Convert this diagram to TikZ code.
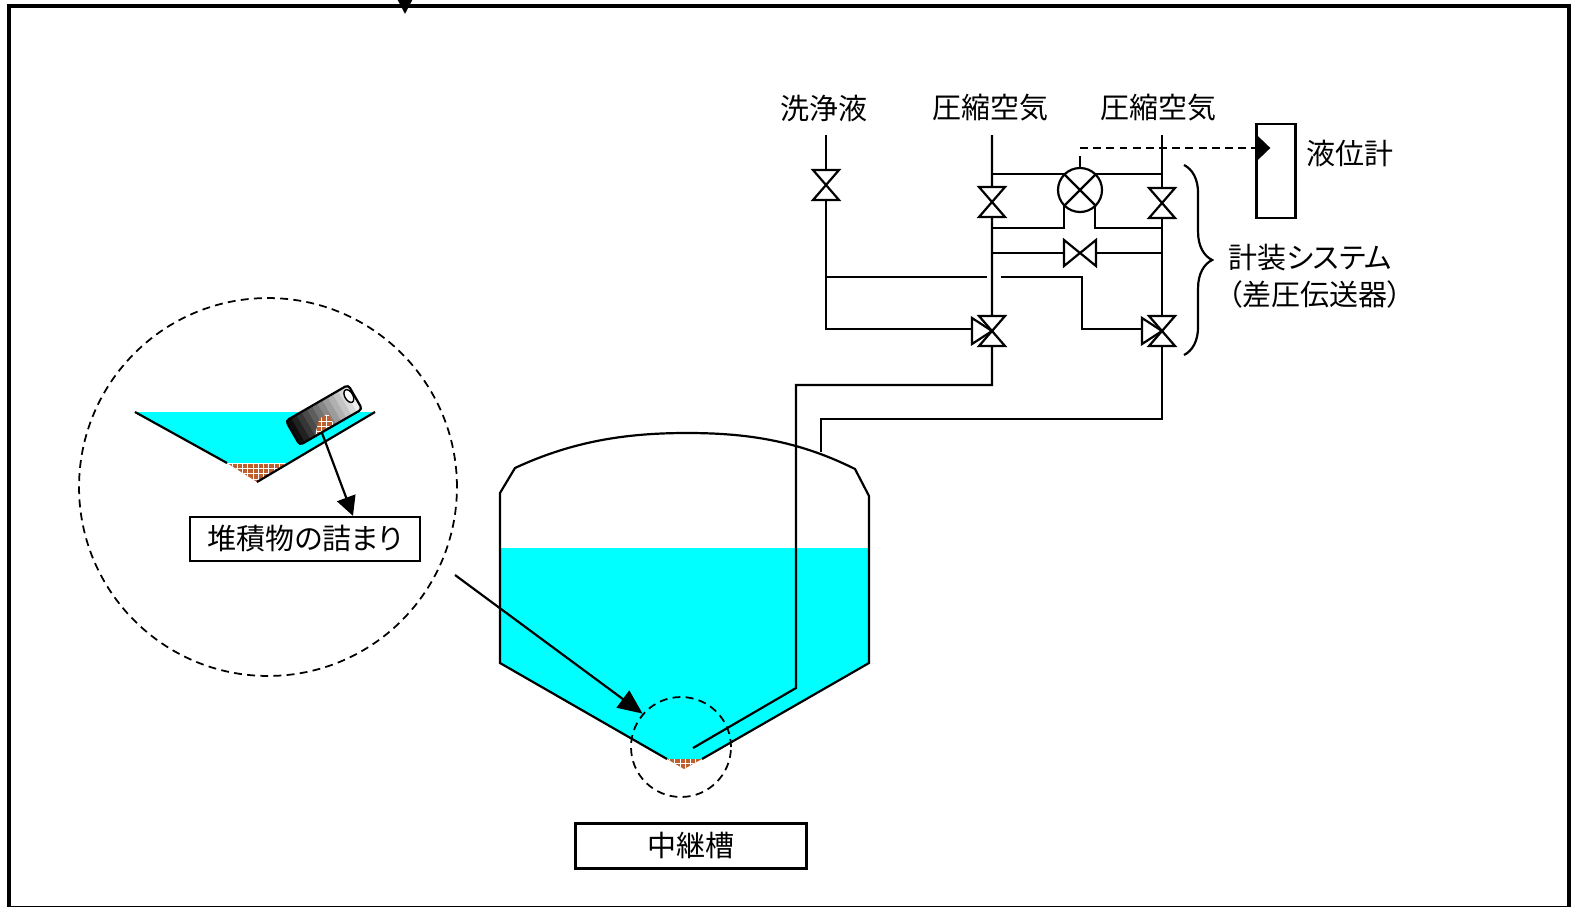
\documentclass[tikz,border=0pt]{standalone}
\usepackage{fontspec}
\setmainfont{Noto Sans CJK JP}[CharacterWidth=AlternateProportional]
\usetikzlibrary{arrows.meta,decorations.pathreplacing,patterns}

\definecolor{water}{RGB}{0,255,255}
\definecolor{silt}{RGB}{190,95,45}

\tikzset{
  pipe/.style={line width=1.25pt},
  valve/.style={line width=1.25pt, fill=white},
  txt/.style={font=\fontsize{16.5pt}{20pt}\selectfont, inner sep=0pt},
  namebox/.style={txt, draw, line width=1.25pt, minimum width=4.6cm, minimum height=0.88cm},
  lens/.style={draw, circle, inner sep=0pt, line width=1pt, dash pattern=on 4.5pt off 3pt},
  bigtip/.style={-{Triangle[length=14pt,width=12pt]}},
}

\begin{document}
\begin{tikzpicture}[x=0.02cm, y=-0.02cm]
\useasboundingbox (0,0) rectangle (1571,906);

% feed lines
\def\xw{826}
\def\xa{992}
\def\xb{1162}
\def\ytop{135}

% valve symbols
\def\vvalve#1#2{\draw[valve] (#1-13,#2-15) -- (#1+13,#2-15) -- (#1-13,#2+15) -- (#1+13,#2+15) -- cycle;}
\def\hvalve#1#2{\draw[valve] (#1-16,#2-13) -- (#1-16,#2+13) -- (#1+16,#2-13) -- (#1+16,#2+13) -- cycle;}
\def\tvalve#1#2{\draw[valve] (#1-20,#2-13) -- (#1-20,#2+13) -- (#1,#2) -- cycle; \vvalve{#1}{#2}}

% frame
\draw[line width=2.8pt] (9,6) rectangle (1569,908);
\coordinate (feed) at (405,-10);
\coordinate (feedend) at (405,14);
\draw[pipe, -{Triangle[length=8pt,width=8pt]}] (feed) -- (feedend);

% tank contents
\fill[water] (500,548) -- (869,548) -- (869,663) -- (702,759) -- (667,759) -- (500,663) -- cycle;
\fill[silt] (667,759) -- (702,759) -- (684,769) -- cycle;
\fill[pattern=grid, pattern color=white] (667,759) -- (702,759) -- (684,769) -- cycle;

% wash line
\draw[pipe] (\xw,\ytop) -- (\xw,329) -- (\xa-20,329);
\draw[pipe] (\xw,277) -- (\xa-5,277);
% crossover to right
\draw[pipe] (\xa+9,277) -- (1082,277) -- (1082,329) -- (\xb-18,329);

% air lines
\draw[pipe] (\xa,\ytop) -- (\xa,385) -- (796,385) -- (796,688) -- (693,748);
\draw[pipe] (\xb,\ytop) -- (\xb,419) -- (821,419) -- (821,452);

% manifold
\draw[pipe] (\xa,174) -- (\xb,174);
\draw[pipe] (\xa,228) -- (1064,228) -- (1064,195);
\draw[pipe] (\xb,228) -- (1095,228) -- (1095,195);
\draw[pipe] (\xa,253) -- (\xb,253);

% tank
\draw[pipe] (667,759) -- (500,663) -- (500,493) -- (515,468)
  .. controls (575,440) and (630,433) .. (687,433)
  .. controls (745,433) and (797,440) .. (855,469)
  -- (869,496) -- (869,663) -- (702,759);

% valves
\vvalve{\xw}{185}
\vvalve{\xa}{202}
\vvalve{\xb}{203}
\hvalve{1080}{253}
\tvalve{\xa}{331}
\tvalve{\xb}{331}

% dp cell
\node[draw, circle, fill=white, line width=1.25pt, minimum size=0.88cm, inner sep=0pt] (dp) at (1080,190) {};
\draw[pipe] (dp.45) -- (dp.225) (dp.135) -- (dp.-45);
\draw[pipe] (dp.north) -- ++(0,-11);

% level meter
\node[draw, line width=1.25pt, minimum width=0.78cm, minimum height=1.88cm] (meter) at (1276,171) {};
\coordinate (sig) at (1080,148);
\draw[pipe, dash pattern=on 4.5pt off 3pt, shorten >=-8.5pt, -{Triangle[length=8.5pt,width=16pt]}] (sig) -- (sig -| meter.west);
\node[txt, anchor=west] (meterlbl) at (1306,153) {液位計};

% labels
\node[txt] (wash) at (824,108) {洗浄液};
\node[txt] (aira) at (990,108) {圧縮空気};
\node[txt] (airb) at (1158,108) {圧縮空気};

\draw[pipe, decorate, decoration={brace, amplitude=16pt}] (1184,165) -- (1184,355);
\node[txt, anchor=west] (sys) at (1228,258) {計装システム};
\node[txt, anchor=west] (dpt) at (1228,294) {（差圧伝送器）};

% close-up of the cone bottom
\fill[water] (135,412) -- (375,412) -- (288,463) -- (227,463) -- cycle;
\fill[silt] (227,463) -- (288,463) -- (257,482) -- cycle;
\fill[pattern=grid, pattern color=white] (227,463) -- (288,463) -- (257,482) -- cycle;
\draw[pipe] (135,412) -- (227,463);
\draw[pipe] (257,482) -- (375,412);

% tilted pipe end with deposit, dark to light in strips
\begin{scope}[shift={(324,415)}, rotate=30]
  \foreach \i in {0,...,11} {
    \pgfmathtruncatemacro\tone{95-8*\i}
    \fill[black!\tone] (-36+6*\i,-14) rectangle (-29.5+6*\i,14);
  }
  \fill[silt] (-18,13) -- (-6,1) -- (4,1) -- (4,13) -- cycle;
  \fill[pattern=grid, pattern color=white] (-18,13) -- (-6,1) -- (4,1) -- (4,13) -- cycle;
  \draw[pipe, rounded corners=2pt] (-36,-14) rectangle (36,14);
  \draw[line width=0.8pt, fill=white] (31,-4) ellipse [x radius=4, y radius=7];
\end{scope}

\node[namebox] (deposit) at (305,539) {堆積物の詰まり};
\coordinate (clog) at (322,433);
\draw[pipe, -{Triangle[length=11pt,width=11pt]}] (clog) -- ([xshift=0.96cm]deposit.north);

\node[lens, minimum size=7.56cm] (zoom) at (268,487) {};
\node[lens, minimum size=2cm] (spot) at (681,747) {};
\coordinate (from) at (455,575);
\draw[pipe, bigtip] (from) -- (spot.139);

\node[namebox, minimum width=4.62cm, minimum height=0.9cm] (tank) at (691,846) {中継槽};
\end{tikzpicture}
\end{document}
